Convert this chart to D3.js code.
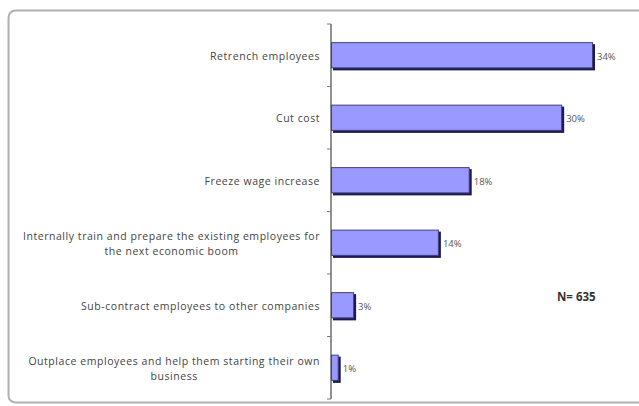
<!DOCTYPE html>
<html><head><meta charset="utf-8">
<script src="https://cdn.jsdelivr.net/npm/d3@7"></script>
<style>body{margin:0;background:#fff;}svg{display:block;}</style>
</head><body>
<svg id="c" width="639" height="406"></svg>
<script>
const categories = [
  ["Retrench employees"],
  ["Cut cost"],
  ["Freeze wage increase"],
  ["Internally train and prepare the existing employees for", "the next economic boom"],
  ["Sub-contract employees to other companies"],
  ["Outplace employees and help them starting their own", "business"]
];
const keys = ["retrench","cut","freeze","train","sub","outplace"];
const values = [34, 30, 18, 14, 3, 1];
const valueLabels = ["34%","30%","18%","14%","3%","1%"];
const note = "N= 635";

const FONT = "'Open Sans','Liberation Sans',Arial,sans-serif";
const svg = d3.select("#c");
// frame
svg.append("rect").attr("x",8.5).attr("y",10.5).attr("width",680).attr("height",392)
  .attr("rx",7).attr("fill","none").attr("stroke","#b0b0b0").attr("stroke-width",2);

const x = d3.scaleLinear().domain([0,34]).range([331,593]);
const y = d3.scaleBand().domain(keys).range([24,399]).paddingInner(0.58).paddingOuter(0.29);

// axis line and category-boundary ticks
svg.append("line").attr("x1",331).attr("x2",331).attr("y1",24).attr("y2",399).attr("stroke","#555").attr("stroke-width",1.3);
const bounds = d3.range(keys.length+1).map(i => 24 + i*(375/keys.length));
svg.selectAll(".tk").data(bounds).join("line")
  .attr("x1",327).attr("x2",331).attr("y1",d=>d).attr("y2",d=>d).attr("stroke","#777");

// bars
const g = svg.append("g");
keys.forEach((k,i)=>{
  const y0 = y(k), h = y.bandwidth();
  const w = x(values[i]) - x(0);
  g.append("rect").attr("x",x(0)+2).attr("y",y0+2).attr("width",w).attr("height",h).attr("fill","#1a1a50");
  g.append("rect").attr("x",x(0)+0.5).attr("y",y0+0.5).attr("width",w-1).attr("height",h-1)
    .attr("fill","#9999ff").attr("stroke","#40407a").attr("stroke-width",1);
  g.append("text").attr("x",x(values[i])+4).attr("y",y0+h/2+1).attr("dy","0.35em")
    .attr("font-family",FONT).attr("font-size",9.5).attr("fill","#555")
    .text(valueLabels[i]);
  const lines = categories[i];
  const cy = y0 + h/2 + 1;
  const t = svg.append("text").attr("text-anchor","end")
    .attr("font-family",FONT).attr("font-size",10.5).attr("letter-spacing","0.55px").attr("fill","#444");
  lines.forEach((ln,j)=>{
    const off = (j - (lines.length-1)/2)*15;
    t.append("tspan").attr("x",320).attr("y",cy+off).attr("dy","0.35em").text(ln);
  });
  if (lines.length>1) {
    const tsp = t.selectAll("tspan").nodes();
    const wmax = d3.max(tsp, n=>n.getComputedTextLength());
    t.attr("text-anchor","middle");
    tsp.forEach(n=>d3.select(n).attr("x",320 - wmax/2));
  }
});

svg.append("text").attr("x",557).attr("y",297).attr("dy","0.35em")
  .attr("font-family",FONT).attr("font-size",11.5).attr("font-weight","bold").attr("fill","#333")
  .text(note);
</script>
</body></html>
